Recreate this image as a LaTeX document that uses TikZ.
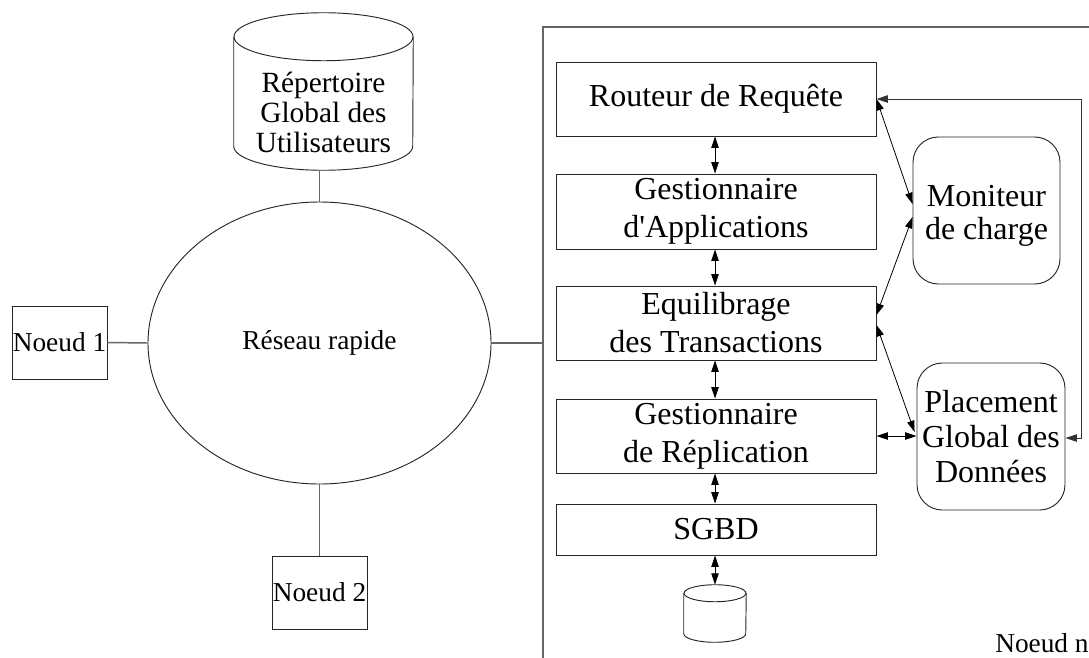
\documentclass[tikz,border=0pt]{standalone}
\usepackage{fontspec}
\setmainfont{Liberation Serif}
\usetikzlibrary{arrows.meta,shapes.geometric,calc}
\begin{document}
\begin{tikzpicture}[x=0.75pt,y=-0.75pt,
  >={Triangle[length=8.5pt,width=5.5pt]},
  box/.style={draw=black!85,line width=0.7pt,minimum width=240pt,inner sep=0pt,align=center,font=\fontsize{24}{28.5}\selectfont},
  rbox/.style={draw=black!85,line width=0.7pt,rounded corners=19pt,inner sep=0pt,align=center,font=\fontsize{24}{26}\selectfont},
  nbox/.style={draw=black!85,line width=0.7pt,minimum width=71.25pt,minimum height=54.75pt,inner sep=0pt,font=\fontsize{20.5}{24}\selectfont},
  conn/.style={draw=black!60,line width=1.1pt},
  arr/.style={<->,draw=black,line width=0.6pt},
  shapeline/.style={draw=black!85,line width=0.7pt}
]
\useasboundingbox (0,0) rectangle (1089,657);

% left part
\node[draw=black!85,line width=0.7pt,ellipse,minimum width=257.25pt,minimum height=211.5pt,inner sep=0pt,font=\fontsize{20.5}{24}\selectfont] (net) at (319.5,343) {Réseau rapide};
\node[nbox] (n1) at (59.5,342.5) {Noeud 1};
\node[nbox] (n2) at (319.5,592.5) {Noeud 2};

% directory cylinder
\node[minimum width=134.25pt,minimum height=117.75pt,inner sep=0pt] (dir) at (323.5,91.5) {};
\draw[shapeline] ($(dir.north)+(0,24)$) ellipse [x radius=67.125pt,y radius=18pt];
\draw[shapeline] ($(dir.north west)+(0,24)$) -- ($(dir.south west)+(0,-24)$)
  arc[start angle=180,end angle=360,x radius=67.125pt,y radius=18pt] -- ($(dir.north east)+(0,24)$);
\node[align=center,inner sep=0pt,font=\fontsize{22}{22.5}\selectfont] (dirtxt) at (323.5,112) {Répertoire\\Global des\\Utilisateurs};

% node n frame
\node[draw=black!60,line width=1.4pt,minimum width=417.75pt,minimum height=504.75pt,inner sep=0pt] (nn) at (821.5,363.5) {};
\node[anchor=base west,inner sep=0pt,font=\fontsize{20.5}{24}\selectfont] (nntxt) at (995,652) {Noeud n};

\draw[conn] (n1.east) -- (net.west);
\draw[conn] (net.south) -- (n2.north);
\draw[conn] (net.north) -- (net.north |- dir.south);
\draw[conn] (net.east) -- (net.east -| nn.west);

% column
\node[box,minimum height=55.5pt] (rr) at (716,99) {Routeur de Requête};
\node[box,minimum height=56.25pt] (ga) at (716,211.5) {Gestionnaire\\d\textquotesingle Applications};
\node[box,minimum height=55.5pt] (et) at (716,323) {Equilibrage\\des Transactions};
\node[box,minimum height=55.5pt] (gr) at (716,436) {Gestionnaire\\de Réplication};
\node[box,minimum height=38.25pt] (sg) at (716,529.5) {SGBD};

% small cylinder
\node[minimum width=46.5pt,minimum height=42.75pt,inner sep=0pt] (db) at (715,613.5) {};
\draw[shapeline] ($(db.north)+(0,8.5)$) ellipse [x radius=23.25pt,y radius=6.375pt];
\draw[shapeline] ($(db.north west)+(0,8.5)$) -- ($(db.south west)+(0,-8.5)$)
  arc[start angle=180,end angle=360,x radius=23.25pt,y radius=6.375pt] -- ($(db.north east)+(0,8.5)$);

% right boxes
\node[rbox,minimum width=110.25pt,minimum height=110.25pt] (mc) at (986.5,210.5) {};
\node[align=center,inner sep=0pt,font=\fontsize{24}{25}\selectfont] (mctxt) at (986.5,216) {Moniteur\\de charge};
\node[rbox,minimum width=111pt,minimum height=110.25pt] (pg) at (991,436.5) {Placement\\Global des\\Données};

% arrows
\draw[arr] ($(rr.south)+(-1,0)$) -- ($(ga.north)+(-1,0)$);
\draw[arr] ($(ga.south)+(-1,0)$) -- ($(et.north)+(-1,0)$);
\draw[arr] ($(et.south)+(-1,0)$) -- ($(gr.north)+(-1,0)$);
\draw[arr] ($(gr.south)+(-1,0)$) -- ($(sg.north)+(-1,0)$);
\draw[arr] ($(sg.south)+(-1,0)$) -- (db.north);

\draw[arr] (rr.east) -- ($(mc.west)+(0,-6.5)$);
\draw[arr] ($(mc.west)+(0,6.5)$) -- ($(et.east)+(0,-8)$);
\draw[arr] ($(et.east)+(0,2)$) -- ($(pg.west)+(-2,-4.5)$);
\draw[arr] (gr.east) -- (gr.east -| pg.west);

\coordinate (fb) at (1081,0);
\draw[arr,draw=black!80] (rr.east) -- (rr.east -| fb) -- ($(pg.east -| fb)+(0,1.5)$) -- ($(pg.east)+(0,1.5)$);
\end{tikzpicture}
\end{document}
